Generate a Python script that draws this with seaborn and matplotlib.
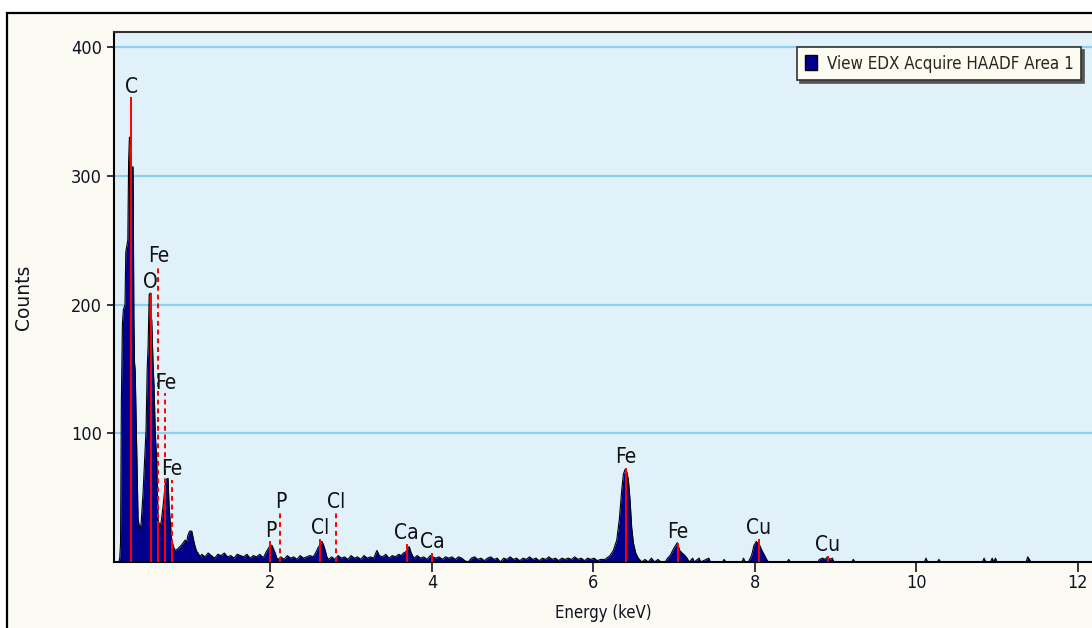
import numpy as np
import matplotlib
matplotlib.use("Agg")
import matplotlib.pyplot as plt
from matplotlib.patches import Rectangle, Patch
import seaborn as sns

# EDX spectrum (energy in keV, counts), segment by segment
low_e = [0.064, 0.125, 0.135, 0.145, 0.155, 0.168, 0.18, 0.20, 0.21, 0.235, 0.245, 0.255,
         0.268, 0.272, 0.30, 0.31, 0.318, 0.326, 0.346, 0.362, 0.386, 0.40, 0.424, 0.461,
         0.475, 0.486, 0.50, 0.515, 0.525, 0.531, 0.547, 0.56, 0.575, 0.593, 0.609, 0.634,
         0.65, 0.671, 0.69, 0.708, 0.733, 0.745, 0.758, 0.779, 0.80, 0.82, 0.85, 0.882,
         0.91, 0.944, 0.96, 0.981, 1.00, 1.027, 1.05, 1.068, 1.09, 1.105, 1.13]
low_c = [0, 0, 3, 15, 123, 185, 196, 200, 241, 250, 311, 330,
         330, 307, 307, 190, 155, 149, 85, 33, 25, 30, 54, 103,
         150, 167, 208, 209, 190, 188, 155, 136, 100, 79, 33, 27,
         32, 43, 55, 64, 65, 45, 33, 17, 12, 9, 10, 12,
         14, 17, 15, 21, 24, 24, 17, 12, 8, 7, 4]

mid_e = [1.15, 1.19, 1.23, 1.27, 1.31, 1.35, 1.39, 1.43, 1.47, 1.51, 1.55, 1.59, 1.63, 1.67,
         1.71, 1.75, 1.79, 1.83, 1.87, 1.90,
         1.92, 1.95, 1.98, 2.00, 2.02, 2.04, 2.06, 2.08, 2.10,
         2.13, 2.17, 2.21, 2.25, 2.29, 2.33, 2.37, 2.41, 2.45, 2.49,
         2.53, 2.56, 2.59, 2.62, 2.64, 2.66, 2.68, 2.70, 2.72,
         2.76, 2.80, 2.84, 2.88, 2.92, 2.96, 3.00, 3.04, 3.08, 3.12, 3.16, 3.20, 3.24, 3.28,
         3.32, 3.35, 3.39, 3.43, 3.47, 3.51, 3.55, 3.59, 3.62,
         3.65, 3.68, 3.70, 3.72, 3.74, 3.76, 3.78]
mid_c = [6, 4, 7, 5, 3, 6, 5, 7, 4, 5, 3, 6, 5, 4,
         6, 3, 5, 4, 6, 4,
         4, 8, 11, 13, 13, 10, 7, 3, 2,
         4, 2, 5, 3, 4, 2, 5, 3, 4, 5,
         4, 7, 11, 14, 16, 13, 9, 4, 2,
         4, 2, 5, 3, 4, 2, 5, 3, 4, 2, 5, 3, 4, 3,
         9, 5, 4, 6, 3, 5, 4, 6, 5,
         7, 8, 10, 12, 8, 5, 3]

bg_e = [3.82, 3.86, 3.90, 3.94, 3.98, 4.01, 4.05, 4.09, 4.13, 4.17, 4.21, 4.25, 4.29, 4.33,
        4.37, 4.41, 4.45, 4.49, 4.53, 4.57, 4.61, 4.65, 4.69, 4.73, 4.77, 4.81, 4.85, 4.89,
        4.93, 4.97, 5.01, 5.05, 5.09, 5.13, 5.17, 5.21, 5.25, 5.29, 5.33, 5.37, 5.41, 5.45,
        5.49, 5.53, 5.57, 5.61, 5.65, 5.69, 5.73, 5.77, 5.81, 5.85, 5.89, 5.93, 5.97, 6.01,
        6.05, 6.09]
bg_c = [5, 3, 4, 2, 5, 4, 3, 4, 2, 4, 3, 4, 2, 4,
        3, 1, 0, 3, 4, 2, 3, 1, 3, 4, 2, 3, 0, 3,
        2, 4, 2, 3, 1, 3, 2, 4, 2, 3, 1, 3, 2, 4,
        2, 3, 1, 3, 2, 3, 2, 4, 2, 3, 1, 3, 2, 3,
        1, 2]

high_e = [6.12, 6.145, 6.207, 6.248, 6.29, 6.322, 6.352, 6.372, 6.393, 6.414, 6.434, 6.455,
          6.475, 6.496, 6.525, 6.557, 6.60,
          6.64, 6.68, 6.72, 6.76, 6.80, 6.84, 6.888,
          6.92, 6.95, 6.975, 7.0, 7.04, 7.07, 7.10, 7.135, 7.16, 7.19,
          7.23, 7.25, 7.31, 7.33, 7.43, 7.45, 7.60, 7.62, 7.64, 7.84, 7.86, 7.88,
          7.92, 7.96, 7.99, 8.02, 8.04, 8.06, 8.08, 8.105, 8.147, 8.17,
          8.40, 8.42, 8.44, 8.78, 8.80, 8.84, 8.87, 8.90, 8.93, 8.96, 8.98,
          9.20, 9.22, 9.24, 10.10, 10.12, 10.14, 10.26, 10.28, 10.30,
          10.82, 10.84, 10.86, 10.92, 10.94, 10.96, 10.98, 11.00,
          11.36, 11.38, 11.40, 11.42, 12.176]
high_c = [2, 2, 5, 9, 17, 33, 56, 68, 72, 70, 64, 48,
          27, 15, 7, 3, 0,
          2, 0, 3, 0, 2, 0, 0,
          3, 5, 8, 11, 15, 9, 7, 5, 3, 0,
          3, 0, 3, 0, 3, 0, 0, 2, 0, 0, 3, 0,
          0, 5, 13, 16, 14, 13, 10, 7, 2, 0,
          0, 2, 0, 0, 2, 3, 2, 4, 2, 3, 0,
          0, 2, 0, 0, 3, 0, 0, 2, 0,
          0, 3, 0, 0, 3, 0, 3, 0,
          0, 4, 2, 0, 0]

energy = np.array(low_e + mid_e + bg_e + high_e)
counts = np.array(low_c + mid_c + bg_c + high_c)

# element markers: energy, marker height, label, solid/dashed
marker_e = [0.277, 0.52, 0.615, 0.700, 0.780, 2.000, 2.124, 2.616, 2.814, 3.690, 4.002,
            6.403, 7.045, 8.048, 8.905]
marker_h = [361, 209, 229, 131, 64, 16, 38, 18, 38, 14, 7, 73, 15, 18, 5]
marker_lbl = ["C", "O", "Fe", "Fe", "Fe", "P", "P", "Cl", "Cl", "Ca", "Ca",
              "Fe", "Fe", "Cu", "Cu"]
marker_dashed = [False, False, True, True, True, False, True, False, True, False, False,
                 False, False, False, False]

sns.set_theme(style="ticks")
plt.rcParams["font.family"] = ["DejaVu Sans", "Liberation Sans"]
plt.rcParams["font.stretch"] = "condensed"

fig = plt.figure(figsize=(10.92, 6.28), dpi=100)
fig.patch.set_facecolor("white")
# outer panel frame
frame = Rectangle((7 / 1092, -0.05), 1.2, 1.05 - 13 / 628, transform=fig.transFigure,
                  facecolor="#FBFBF3", edgecolor="black", lw=1.6, zorder=-1)
fig.patches.append(frame)

ax = fig.add_axes([114 / 1092, 66 / 628, 978 / 1092, 530 / 628])
ax.set_facecolor("#E1F1FA")

ax.fill_between(energy, counts, 0, color="#00008C", lw=0, zorder=2)
sns.lineplot(x=energy, y=counts, ax=ax, color="black", lw=0.8, sort=False,
             estimator=None, zorder=3)

for e, h, lbl, dashed in zip(marker_e, marker_h, marker_lbl, marker_dashed):
    if dashed:
        ax.vlines(e, 0, h, colors="#FF0000", linestyles=(0, (2.5, 2)), lw=1.4, zorder=4)
        ax.vlines(e, 0, np.interp(e, energy, counts), colors="#FF0000", lw=1.4, zorder=4)
    else:
        ax.vlines(e, 0, h, colors="#FF0000", lw=1.4, zorder=4)
    ax.annotate(lbl, (e, h), xytext=(0, 3.5), textcoords="offset points",
                ha="center", va="baseline", fontsize=15, color="#111111", zorder=5)

ax.set_xlim(0.064, 12.176)
ax.set_ylim(0, 411.8)
ax.set_xticks([2, 4, 6, 8, 10, 12])
ax.set_yticks([100, 200, 300, 400])
ax.yaxis.grid(True, color="#8DCFEC", lw=1.6)
ax.xaxis.grid(False)
ax.set_axisbelow(True)

ax.tick_params(axis="y", direction="out", length=5, width=1.2, pad=3.5,
               labelsize=13, colors="#111122")
ax.tick_params(axis="x", direction="out", length=7, width=1.2, pad=2,
               labelsize=13, colors="#111122")

for side in ["left", "bottom"]:
    ax.spines[side].set_color("black")
    ax.spines[side].set_linewidth(1.5)
ax.spines["top"].set_color("#333333")
ax.spines["top"].set_linewidth(1.5)
ax.spines["right"].set_visible(False)

ax.set_xlabel("Energy (keV)", fontsize=12, color="#111122")
ax.set_ylabel("Counts", fontsize=13.5, color="#111122", fontstretch="normal")
ax.xaxis.set_label_coords(0.5, -0.08)
ax.yaxis.set_label_coords(-0.083, 0.5)

handle = Patch(facecolor="#00008C", edgecolor="black", lw=1)
leg = ax.legend([handle], ["View EDX Acquire HAADF Area 1"], loc="upper right",
                bbox_to_anchor=(0.9888, 0.9717), borderaxespad=0, fontsize=12.2,
                handlelength=0.7, handleheight=1.0, handletextpad=0.6, borderpad=0.45,
                fancybox=False, framealpha=1, facecolor="#FCFCF2", edgecolor="#333333",
                shadow={"color": "#555555", "alpha": 1})
leg.get_frame().set_linewidth(1.2)

fig.savefig("out.png", dpi=100)
